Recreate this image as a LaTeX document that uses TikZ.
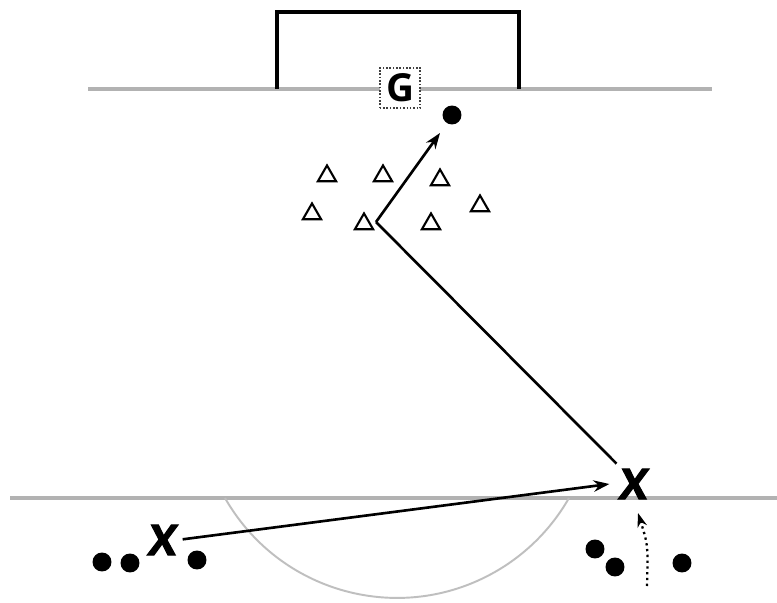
\documentclass[tikz,border=0pt]{standalone}
\usepackage{fontspec}
\setsansfont{Open Sans}
\newfontfamily\xmarkfont{Open Sans}[BoldFeatures={FakeBold=2.5}]
\usetikzlibrary{shapes.geometric,arrows.meta}
\tikzset{
  fieldline/.style={draw=gray!60, line width=2.3pt},
  cone/.style={regular polygon, regular polygon sides=3, draw=black, line width=1.2pt, minimum size=12pt, inner sep=0pt, fill=white},
  ball/.style={circle, fill=black, minimum size=10.8pt, inner sep=0pt},
  player/.style={font=\xmarkfont\bfseries\fontsize{24}{24}\selectfont, inner sep=0pt, text=black},
  run/.style={line width=1.5pt, -{Stealth[length=9pt,width=6.5pt]}},
  keeper/.style={draw=black!75, densely dotted, line width=0.9pt, fill=white, minimum size=23pt, inner sep=0pt, font=\sffamily\bfseries\fontsize{22}{22}\selectfont}
}
\begin{document}
\begin{tikzpicture}[x=0.02cm,y=-0.02cm]
\useasboundingbox[fill=white] (0,0) rectangle (777,602);
% field lines
\draw[fieldline] (88,89) -- (712,89);
\draw[fieldline] (10,498) -- (777,498);
\draw[draw=gray!50, line width=1.1pt] (225,498) arc[start angle=150.3, end angle=29.7, radius=198];
% goal
\draw[line width=2.8pt] (277,89) -- (277,12) -- (519,12) -- (519,89);
\node[keeper] (G) at (400,88) {G};
% balls
\node[ball] (b0) at (452,115) {};
\node[ball] (b1) at (102,562) {};
\node[ball] (b2) at (130,563) {};
\node[ball] (b3) at (197,560) {};
\node[ball] (b4) at (595,549) {};
\node[ball] (b5) at (615,567) {};
\node[ball] (b6) at (682,563) {};
% cones
\node[cone] (t1) at (327,176) {};
\node[cone] (t2) at (383,176) {};
\node[cone] (t3) at (440,180) {};
\node[cone] (t4) at (312,214) {};
\node[cone] (t5) at (364,224) {};
\node[cone] (t6) at (431,224) {};
\node[cone] (t7) at (480,206) {};
% players
\node[player, xslant=0.12] (xL) at (163,540) {X};
\node[player, xslant=0.12] (xR) at (634,484) {X};
% runs and passes
\coordinate (turn) at (376,222);
\coordinate (goalrun) at (440,133);
\coordinate (dotstart) at (647,586);
\draw[run, shorten <=3pt] (xL.east) -- ([xshift=-14pt]xR.center);
\draw[line width=1.5pt, shorten <=4pt] (xR.north west) -- (turn);
\draw[run] (turn) -- (goalrun);
\draw[line width=1.3pt, dotted, -{Stealth[length=8pt,width=5.5pt]}] (dotstart) .. controls (648,545) .. (638,513);
\end{tikzpicture}
\end{document}
